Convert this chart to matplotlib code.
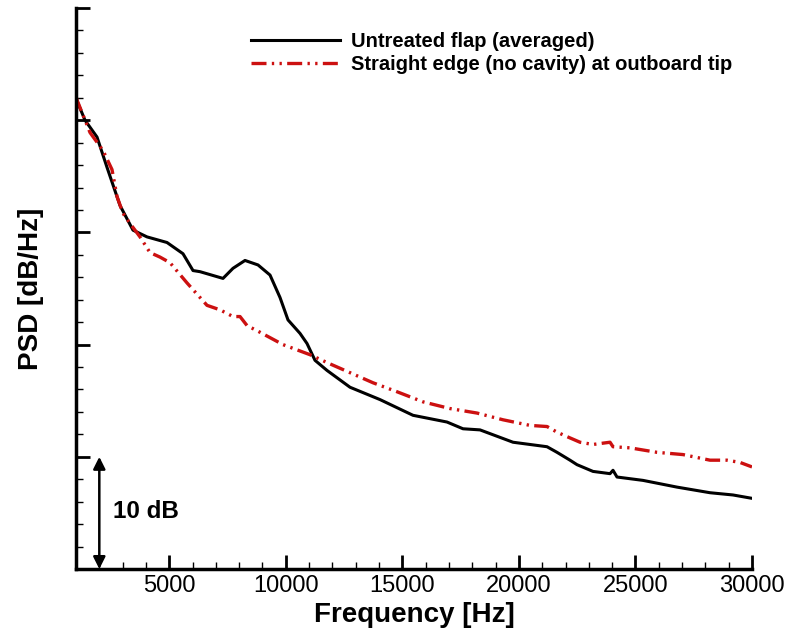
import numpy as np
import matplotlib.pyplot as plt
from matplotlib.ticker import MultipleLocator

plt.rcParams['font.family'] = ['Liberation Sans', 'DejaVu Sans']

# Untreated flap (averaged): frequency [Hz], PSD [dB, relative]
f_untreated = [1000, 1086, 1386, 1901, 2330, 2888, 3445, 4046, 4904, 5590, 6020, 6320,
               7306, 7735, 8250, 8808, 9323, 9752, 10095, 10610, 10910, 11253, 11768,
               12755, 14042, 15457, 16916, 17602, 18332, 19747, 21206, 21635, 22193,
               22493, 23179, 23909, 24037, 24209, 25324, 26783, 28199, 29185, 30000]
psd_untreated = [42.0, 41.5, 40.0, 38.5, 35.8, 32.4, 30.2, 29.6, 29.1, 28.1, 26.6, 26.5,
                 25.9, 26.8, 27.5, 27.1, 26.2, 24.2, 22.2, 21.0, 20.1, 18.6, 17.7,
                 16.2, 15.1, 13.7, 13.1, 12.5, 12.4, 11.3, 10.9, 10.4, 9.7,
                 9.3, 8.7, 8.5, 8.8, 8.2, 7.9, 7.3, 6.8, 6.6, 6.3]

# Straight edge (no cavity) at outboard tip
f_straight = [1000, 1043, 1601, 2158, 2544, 2759, 3016, 3317, 3746, 4175, 4604, 5033,
              5762, 6620, 7178, 7735, 8036, 8336, 8894, 9880, 11039, 11768, 12755,
              13741, 14771, 15886, 17045, 18203, 19318, 20477, 21206, 21635, 22064,
              22622, 23179, 23909, 24037, 24766, 25925, 27040, 28199, 28928, 29486, 30000]
psd_straight = [42.1, 41.8, 38.9, 37.3, 35.6, 33.2, 31.7, 30.8, 29.6, 28.2, 27.8, 27.3,
                25.5, 23.5, 23.1, 22.5, 22.5, 21.7, 21.1, 20.0, 19.1, 18.4, 17.5,
                16.6, 15.8, 14.9, 14.3, 13.9, 13.3, 12.8, 12.7, 12.2, 11.8,
                11.3, 11.1, 11.3, 10.9, 10.8, 10.4, 10.2, 9.7, 9.7, 9.5, 9.1]

labels = ['Untreated flap (averaged)', 'Straight edge (no cavity) at outboard tip']

fig = plt.figure(figsize=(8.0, 6.39), dpi=100)
ax = fig.add_axes([0.095, 0.1095, 0.845, 0.878])

ax.plot(f_untreated, psd_untreated, color='black', lw=2.2, label=labels[0])
ax.plot(f_straight, psd_straight, color='#cc1010', lw=2.4,
        linestyle=(0, (4.5, 1.6, 0.7, 1.6, 0.7, 1.6)), label=labels[1])

ax.set_xlim(1000, 30000)
ax.set_ylim(0, 50)
ax.xaxis.set_major_locator(MultipleLocator(5000))
ax.xaxis.set_minor_locator(MultipleLocator(1000))
ax.yaxis.set_major_locator(MultipleLocator(10))
ax.yaxis.set_minor_locator(MultipleLocator(2))
ax.set_yticklabels([])
ax.tick_params(which='major', direction='in', length=10, width=2, labelsize=17, pad=4)
ax.tick_params(which='minor', direction='in', length=5, width=1)
for s in ['top', 'right']:
    ax.spines[s].set_visible(False)
for s in ['left', 'bottom']:
    ax.spines[s].set_linewidth(2.5)

ax.set_xlabel('Frequency [Hz]', fontsize=20, fontweight='bold', labelpad=4)
ax.set_ylabel('PSD [dB/Hz]', fontsize=20, fontweight='bold', labelpad=19)

# 10 dB scale arrow
ax.annotate('', xy=(2000, 0), xytext=(2000, 10),
            arrowprops=dict(arrowstyle='<|-|>', color='black', lw=1.8,
                            mutation_scale=18, shrinkA=0, shrinkB=0))
ax.text(2600, 5.1, '10 dB', fontsize=17.5, fontweight='bold', va='center', ha='left')

ax.legend(loc='upper left', bbox_to_anchor=(0.232, 0.99), frameon=False,
          handlelength=4.4, handletextpad=0.55, labelspacing=0.2,
          prop={'size': 14.5, 'weight': 'bold'})

fig.savefig('out.png', dpi=100)
